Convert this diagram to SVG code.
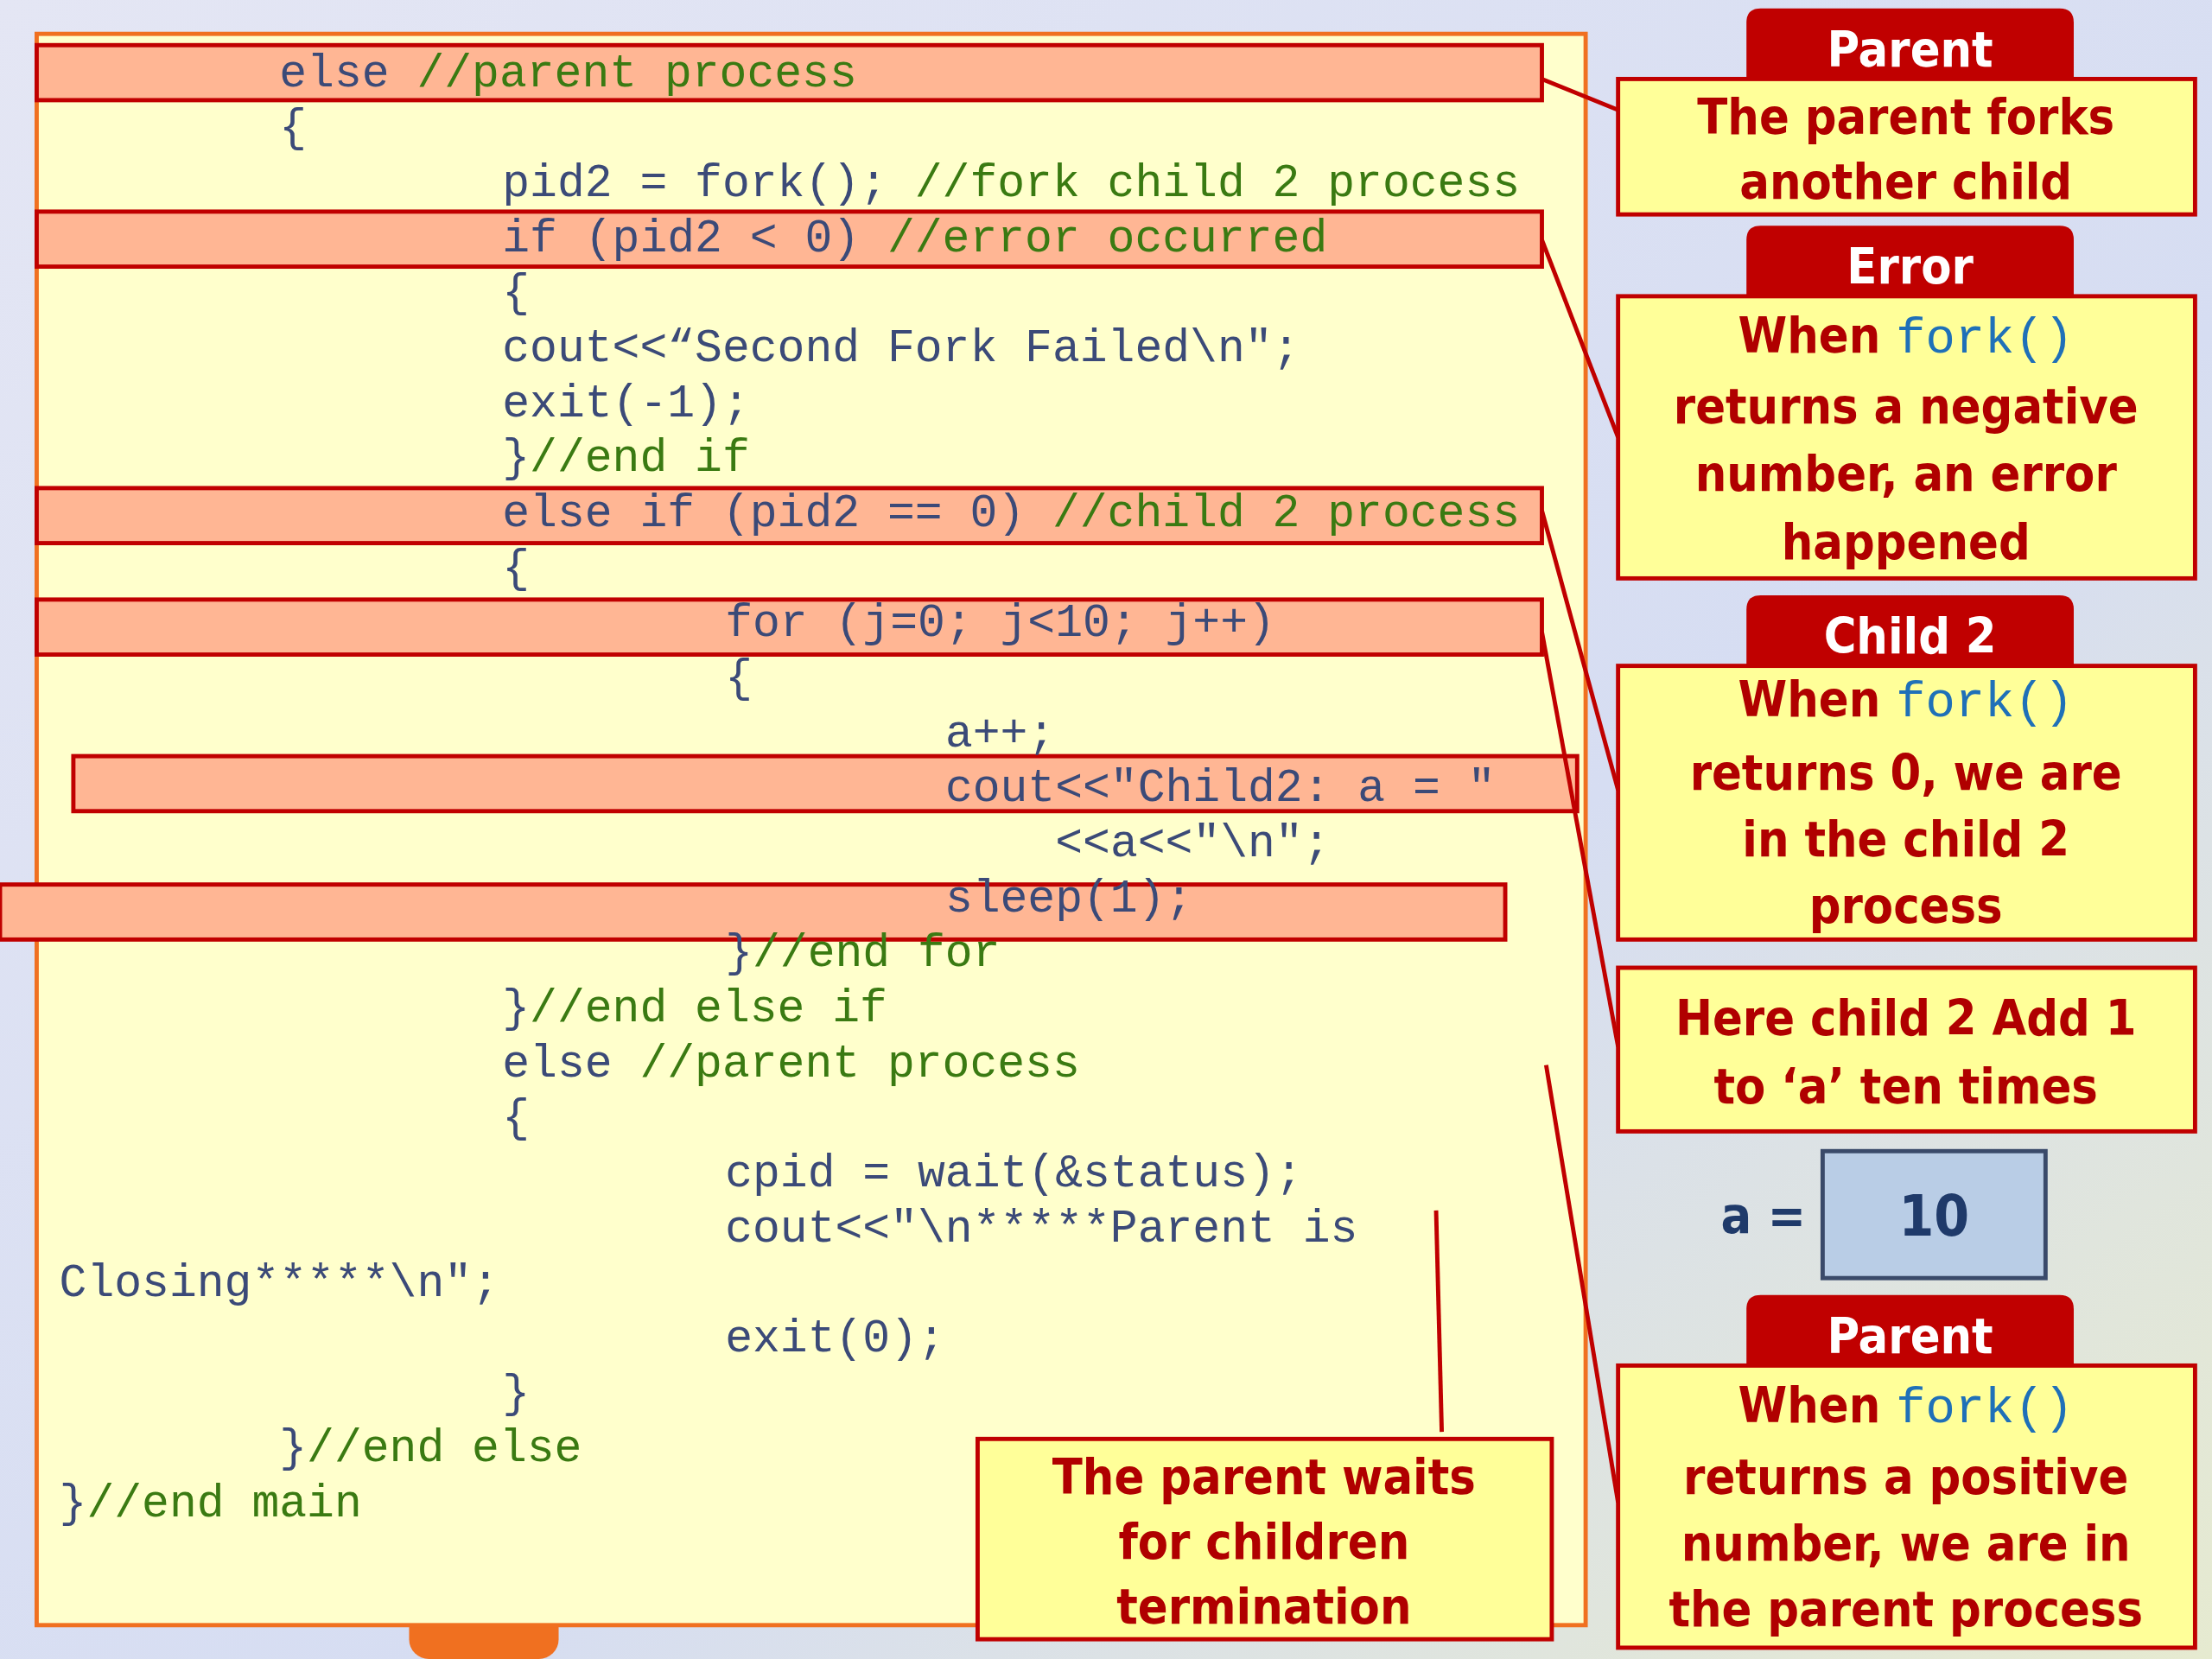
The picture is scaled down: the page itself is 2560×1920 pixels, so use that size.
<svg xmlns="http://www.w3.org/2000/svg" width="2560" height="1920" viewBox="0 0 2560 1920">
<defs>
<linearGradient id="bg" x1="0" y1="0" x2="1" y2="1">
<stop offset="0" stop-color="#e4e6f4"/><stop offset="0.6" stop-color="#d6ddf2"/><stop offset="1" stop-color="#e6ead0"/>
</linearGradient>
<style>
.code{font-family:"Liberation Mono","DejaVu Sans Mono",monospace;font-size:32.5px;fill:#3b4a78;white-space:pre;}
.cm{fill:#3a7a12;}
.bar{fill:#ffb694;stroke:#c00000;stroke-width:3;}
.box{fill:#ffff99;stroke:#c00000;stroke-width:3;}
.tab{fill:#c00000;}
.tt{font-family:"DejaVu Sans Condensed","Liberation Sans",sans-serif;font-weight:bold;font-size:35px;fill:#ffffff;text-anchor:middle;}
.bt{font-family:"DejaVu Sans Condensed","Liberation Sans",sans-serif;font-weight:bold;font-size:35px;fill:#b00000;text-anchor:middle;}
.fk{font-family:"Liberation Mono",monospace;font-weight:normal;fill:#1f70b8;}
.ln{stroke:#c00000;stroke-width:3;fill:none;}
</style>
</defs>
<g transform="scale(1.63265)">
<rect x="0" y="0" width="1568" height="1176" fill="url(#bg)"/>
<rect x="290" y="1140" width="106" height="36" rx="14" fill="#f07020"/>
<rect id="codebox" x="26" y="24" width="1098" height="1128" fill="#ffffcc" stroke="#f07020" stroke-width="3"/>
<g id="bars">
<rect class="bar" x="26" y="32" width="1067" height="39"/>
<rect class="bar" x="26" y="150" width="1067" height="39"/>
<rect class="bar" x="26" y="346" width="1067" height="39"/>
<rect class="bar" x="26" y="425" width="1067" height="39"/>
<rect class="bar" x="52" y="536" width="1066" height="39"/>
<rect class="bar" x="0" y="627" width="1067" height="39"/>
</g>
<g id="code" class="code" xml:space="preserve">
<text x="198" y="61">else    <tspan class="cm">//parent process</tspan></text>
<text x="198" y="100">{</text>
<text x="356" y="139">pid2 = fork();  <tspan class="cm">//fork child 2 process</tspan></text>
<text x="356" y="178">if (pid2 &lt; 0)   <tspan class="cm">//error occurred</tspan></text>
<text x="356" y="217">{</text>
<text x="356" y="256">cout&lt;&lt;“Second Fork Failed\n";</text>
<text x="356" y="295">exit(-1);</text>
<text x="356" y="334">}<tspan class="cm">//end if</tspan></text>
<text x="356" y="373">else if (pid2 == 0) <tspan class="cm">//child 2 process</tspan></text>
<text x="356" y="412">{</text>
<text x="514" y="451">for (j=0; j&lt;10; j++)</text>
<text x="514" y="490">{</text>
<text x="670" y="529">a++;</text>
<text x="670" y="568">cout&lt;&lt;"Child2: a = "</text>
<text x="748" y="607">&lt;&lt;a&lt;&lt;"\n";</text>
<text x="670" y="646">sleep(1);</text>
<text x="514" y="685">}<tspan class="cm">//end for</tspan></text>
<text x="356" y="724">}<tspan class="cm">//end else if</tspan></text>
<text x="356" y="763">else    <tspan class="cm">//parent process</tspan></text>
<text x="356" y="802">{</text>
<text x="514" y="841">cpid = wait(&amp;status);</text>
<text x="514" y="880">cout&lt;&lt;"\n*****Parent is</text>
<text x="42" y="919">Closing*****\n";</text>
<text x="514" y="958">exit(0);</text>
<text x="356" y="997">}</text>
<text x="198" y="1036">}<tspan class="cm">//end else</tspan></text>
<text x="42" y="1075">}<tspan class="cm">//end main</tspan></text>
</g>
<g id="connectors">
<line class="ln" x1="1093" y1="56" x2="1147" y2="78"/>
<line class="ln" x1="1093" y1="170" x2="1147" y2="310"/>
<line class="ln" x1="1093" y1="362" x2="1147" y2="560"/>
<line class="ln" x1="1093" y1="448" x2="1147" y2="742"/>
<line class="ln" x1="1096" y1="755" x2="1147" y2="1065"/>
<line class="ln" x1="1018" y1="858" x2="1022" y2="1015"/>
</g>
<g id="parent1">
<path class="tab" d="M1238,56 V16 Q1238,6 1248,6 H1460 Q1470,6 1470,16 V56 Z"/>
<text class="tt" x="1354" y="47">Parent</text>
<rect class="box" x="1147" y="56" width="409" height="96"/>
<text class="bt" x="1351" y="95">The parent forks</text>
<text class="bt" x="1351" y="141">another child</text>
</g>
<g id="error">
<path class="tab" d="M1238,210 V170 Q1238,160 1248,160 H1460 Q1470,160 1470,170 V210 Z"/>
<text class="tt" x="1354" y="201">Error</text>
<rect class="box" x="1147" y="210" width="409" height="200"/>
<text class="bt" x="1351" y="250">When <tspan class="fk">fork()</tspan></text>
<text class="bt" x="1351" y="300">returns a negative</text>
<text class="bt" x="1351" y="348">number, an error</text>
<text class="bt" x="1351" y="396">happened</text>
</g>
<g id="child2">
<path class="tab" d="M1238,472 V432 Q1238,422 1248,422 H1460 Q1470,422 1470,432 V472 Z"/>
<text class="tt" x="1354" y="463">Child 2</text>
<rect class="box" x="1147" y="472" width="409" height="194"/>
<text class="bt" x="1351" y="508">When <tspan class="fk">fork()</tspan></text>
<text class="bt" x="1351" y="560">returns 0, we are</text>
<text class="bt" x="1351" y="607">in the child 2</text>
<text class="bt" x="1351" y="654">process</text>
</g>
<g id="addone">
<rect class="box" x="1147" y="686" width="409" height="116"/>
<text class="bt" x="1351" y="734">Here child 2 Add 1</text>
<text class="bt" x="1351" y="782">to ‘a’ ten times</text>
</g>
<g id="avalue">
<text x="1250" y="874" font-family="DejaVu Sans Condensed,Liberation Sans,sans-serif" font-weight="bold" font-size="36" fill="#1f3a6a" text-anchor="middle">a =</text>
<rect x="1292" y="816" width="158" height="90" fill="#b9cde6" stroke="#3a4a6a" stroke-width="3"/>
<text x="1371" y="876" font-family="DejaVu Sans Condensed,Liberation Sans,sans-serif" font-weight="bold" font-size="40" fill="#1f3a6a" text-anchor="middle">10</text>
</g>
<g id="parent2">
<path class="tab" d="M1238,968 V928 Q1238,918 1248,918 H1460 Q1470,918 1470,928 V968 Z"/>
<text class="tt" x="1354" y="959">Parent</text>
<rect class="box" x="1147" y="968" width="409" height="200"/>
<text class="bt" x="1351" y="1008">When <tspan class="fk">fork()</tspan></text>
<text class="bt" x="1351" y="1059">returns a positive</text>
<text class="bt" x="1351" y="1106">number, we are in</text>
<text class="bt" x="1351" y="1153">the parent process</text>
</g>
<g id="waits">
<rect class="box" x="693" y="1020" width="407" height="142"/>
<text class="bt" x="896" y="1059">The parent waits</text>
<text class="bt" x="896" y="1105">for children</text>
<text class="bt" x="896" y="1151">termination</text>
</g>
</g>
</svg>
